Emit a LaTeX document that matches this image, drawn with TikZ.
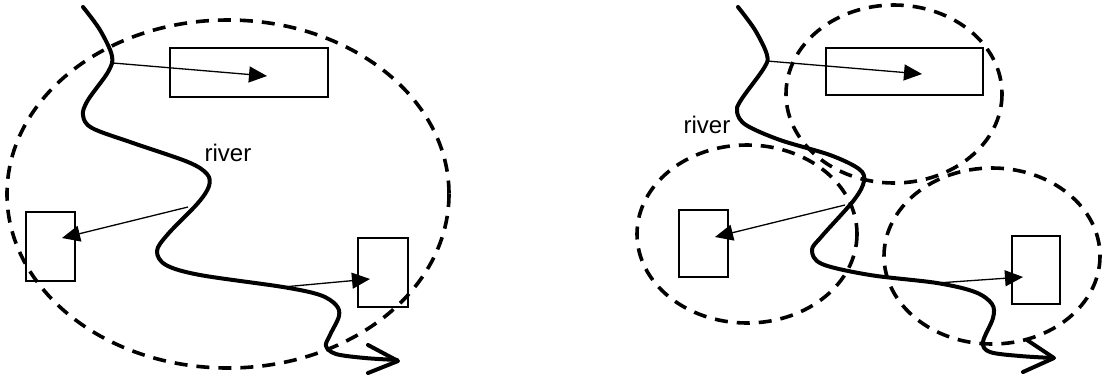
\documentclass[tikz,border=0pt]{standalone}
\usepackage{fontspec}
\setmainfont{Liberation Sans}
\usetikzlibrary{arrows.meta}
\tikzset{
  box/.style={draw, line width=1.4pt, rectangle, inner sep=0pt},
  zone/.style={draw, line width=3.6pt, dash pattern=on 13pt off 9pt},
  stream/.style={draw, line width=4pt, line cap=round, line join=round},
  flow/.style={draw, line width=1.3pt, -{Triangle[length=18pt,width=16pt]}},
  label/.style={font=\fontsize{24}{24}\selectfont, inner sep=0pt},
}
\begin{document}
\begin{tikzpicture}[x=1pt, y=-1pt]
\useasboundingbox (0,0) rectangle (1105,376);

% ---------- one large zone ----------
\draw[zone] (228,194) ellipse [x radius=221, y radius=174];

\node[box, minimum width=158pt, minimum height=49pt] (lt) at (249,72.5) {};
\node[box, minimum width=49pt, minimum height=69pt] (ll) at (50.5,246.5) {};
\node[box, minimum width=50pt, minimum height=69pt] (lr) at (383,272.5) {};

\draw[stream] plot[smooth, tension=0.55] coordinates {
  (83,7) (100,30) (112,56) (108,72) (88,100) (83,115) (92,128) (133,143)
  (188,162) (207,174) (209,186) (198,203) (168,234) (157,251) (166,265)
  (200,275) (283,287) (320,295) (336,305) (339,316) (330,335) (326,346)
  (336,354) (365,358) (397,360)};
\coordinate (lend) at (398,361);
\draw[stream] (lend) ++(-30,-16) -- (lend) -- ++(-30,12);

\coordinate (ls1) at (113,63);
\coordinate (ls2) at (188,207);
\coordinate (ls3) at (283,287);
\coordinate (lt-in) at (267,76);
\coordinate (ll-in) at (62,238);
\coordinate (lr-in) at (370,279);
\draw[flow] (ls1) -- (lt-in);
\draw[flow] (ls2) -- (ll-in);
\draw[flow] (ls3) -- (lr-in);

\node[label] (lriver) at (228,153) {river};

% ---------- three smaller zones ----------
\draw[zone] (894,94) ellipse [x radius=108, y radius=89];
\draw[zone] (747,234) ellipse [x radius=110, y radius=89];
\draw[zone] (992,256) ellipse [x radius=108, y radius=88];

\node[box, minimum width=157pt, minimum height=47pt] (rt) at (904.5,71.5) {};
\node[box, minimum width=49pt, minimum height=67pt] (rl) at (703.5,243.5) {};
\node[box, minimum width=48pt, minimum height=68pt] (rr) at (1036,270) {};

\draw[stream] plot[smooth, tension=0.55] coordinates {
  (738,7) (755,30) (767,55) (764,68) (741,100) (737,112) (746,125) (780,140)
  (830,155) (859,169) (864,181) (854,200) (822,236) (812,250) (822,264)
  (870,275) (937,283) (975,292) (992,304) (993,318) (983,342) (990,352)
  (1020,356) (1053,358)};
\coordinate (rend) at (1054,358);
\draw[stream] (rend) ++(-27,-18) -- (rend) -- ++(-31,14);

\coordinate (rs1) at (767,61);
\coordinate (rs2) at (845,205);
\coordinate (rs3) at (937,283);
\coordinate (rt-in) at (922,74);
\coordinate (rl-in) at (715,237);
\coordinate (rr-in) at (1023,277);
\draw[flow] (rs1) -- (rt-in);
\draw[flow] (rs2) -- (rl-in);
\draw[flow] (rs3) -- (rr-in);

\node[label] (rriver) at (707,125) {river};
\end{tikzpicture}
\end{document}
